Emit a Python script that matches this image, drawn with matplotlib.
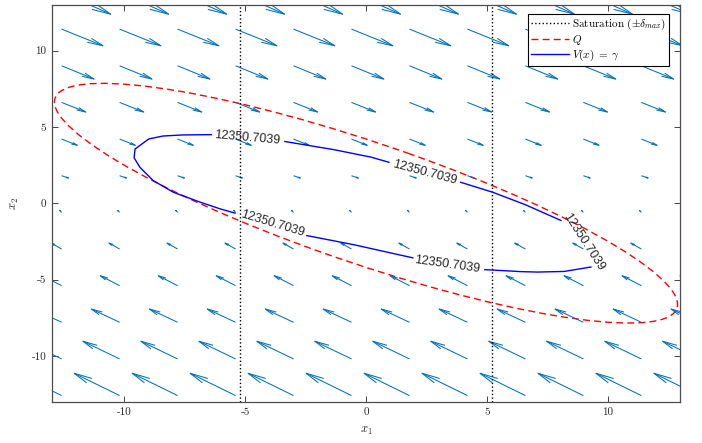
import matplotlib

matplotlib.use("Agg")
import matplotlib.pyplot as plt
import numpy as np
from matplotlib.collections import LineCollection
from matplotlib.lines import Line2D
from matplotlib.patches import Ellipse

plt.rcParams.update({
    "font.family": "serif",
    "font.serif": ["cmr10"],
    "mathtext.fontset": "cm",
    "axes.unicode_minus": False,
})

# quiver grid (tails) and per-row vectors
grid_x = [-15.0, -12.6, -10.2, -7.8, -5.4, -3.0, -0.6, 1.8, 4.2, 6.6, 9.0, 11.4, 13.8]
row_y = [13.8, 11.4, 9.0, 6.6, 4.2, 1.8, -0.6, -3.0, -5.4, -7.8, -10.2, -12.6]
row_u = [2.03, 1.71, 1.34, 1.00, 0.65, 0.28, -0.08, -0.44, -0.80, -1.17, -1.52, -1.88]
row_v = [-1.42, -1.09, -0.87, -0.63, -0.41, -0.15, 0.13, 0.39, 0.65, 0.87, 1.16, 1.46]

# saturation bound
delta_max = 5.22

# ellipse Q: x' M^-1 x <= 1
q_shape = [[166.4, -85.5], [-85.5, 61.6]]

# level set V(x) = gamma, pieces between inline labels
gamma_label = "12350.7039"
level_pieces = [
    ([-6.40, -7.60, -8.40, -8.99, -9.56, -9.60, -9.36, -8.81, -7.98, -6.87, -6.04, -5.42],
     [4.49, 4.47, 4.40, 4.21, 3.55, 2.97, 2.35, 1.48, 0.72, 0.07, -0.37, -0.65]),
    ([-2.45, -0.50, 1.94],
     [-2.12, -2.72, -3.58]),
    ([4.92, 6.41, 7.10, 8.20, 9.31],
     [-4.35, -4.48, -4.51, -4.47, -4.18]),
    ([8.07, 6.60, 5.24, 3.92],
     [-1.13, -0.10, 0.72, 1.37]),
    ([0.95, 0.20, -1.34, -3.36],
     [2.68, 3.02, 3.51, 4.04]),
]
label_x = [-4.90, -3.89, 3.36, 9.00, 2.43]
label_y = [4.29, -1.35, -4.00, -2.54, 2.00]
label_rot = [-5, -17, -8, -57, -15]

fig = plt.figure(figsize=(7.02, 4.43), dpi=100)
ax = fig.add_axes([52 / 702, 1 - 401.7 / 443, 628 / 702, 397 / 443])

# quiver, drawn with MATLAB-like open heads
X, Y = np.meshgrid(grid_x, row_y)
U = np.repeat(np.array(row_u)[:, None], len(grid_x), axis=1)
V = np.repeat(np.array(row_v)[:, None], len(grid_x), axis=1)
tx, ty = X + U, Y + V
alpha, beta = 0.33, 0.23
w1x, w1y = tx - alpha * (U + beta * V), ty - alpha * (V - beta * U)
w2x, w2y = tx - alpha * (U - beta * V), ty - alpha * (V + beta * U)
segs = []
for i in range(X.shape[0]):
    for j in range(X.shape[1]):
        segs.append([(X[i, j], Y[i, j]), (tx[i, j], ty[i, j])])
        segs.append([(w1x[i, j], w1y[i, j]), (tx[i, j], ty[i, j]), (w2x[i, j], w2y[i, j])])
ax.add_collection(LineCollection(segs, colors="#0072BD", linewidths=0.75))

for s in (-delta_max, delta_max):
    ax.axvline(s, color="k", ls=":", lw=1.0)

M = np.array(q_shape)
evals, evecs = np.linalg.eigh(M)
ang = np.degrees(np.arctan2(evecs[1, 1], evecs[0, 1]))
ax.add_patch(Ellipse((0, 0), 2 * np.sqrt(evals[1]), 2 * np.sqrt(evals[0]), angle=ang,
                     fill=False, edgecolor="red", lw=1.0, ls=(0, (5, 3))))

for xs, ys in level_pieces:
    ax.plot(xs, ys, color="blue", lw=1.0)
for lx, ly, rot in zip(label_x, label_y, label_rot):
    ax.text(lx, ly, gamma_label, rotation=rot, rotation_mode="anchor",
            ha="center", va="center", fontsize=9, color="0.15",
            family="Liberation Sans")

ax.set_xlim(-13, 13)
ax.set_ylim(-13, 13)
ax.set_xticks([-10, -5, 0, 5, 10])
ax.set_yticks([-10, -5, 0, 5, 10])
ax.tick_params(direction="in", top=True, right=True, length=4, width=0.6,
               colors="0.15", labelsize=8, pad=4)
for sp in ax.spines.values():
    sp.set_color("0.3")
    sp.set_linewidth(0.9)
ax.set_xlabel("$x_1$", fontsize=9, color="0.15", labelpad=6)
ax.set_ylabel("$x_2$", fontsize=9, color="0.15", labelpad=8)

handles = [
    Line2D([], [], color="k", ls=":", lw=1.0),
    Line2D([], [], color="red", lw=1.0, ls=(0, (5, 3))),
    Line2D([], [], color="blue", lw=1.0),
]
labels = [r"Saturation $(\pm\delta_{max})$", "$Q$", r"$V(x)\;=\;\gamma$"]
leg = ax.legend(handles, labels, loc="upper right", bbox_to_anchor=(0.9825, 0.9758),
                borderaxespad=0, fontsize=8, handlelength=3.4, fancybox=False,
                framealpha=1, edgecolor="k", borderpad=0.25, labelspacing=0.05,
                handletextpad=0.3)
leg.get_frame().set_linewidth(0.8)

fig.savefig("out.png", dpi=100)
